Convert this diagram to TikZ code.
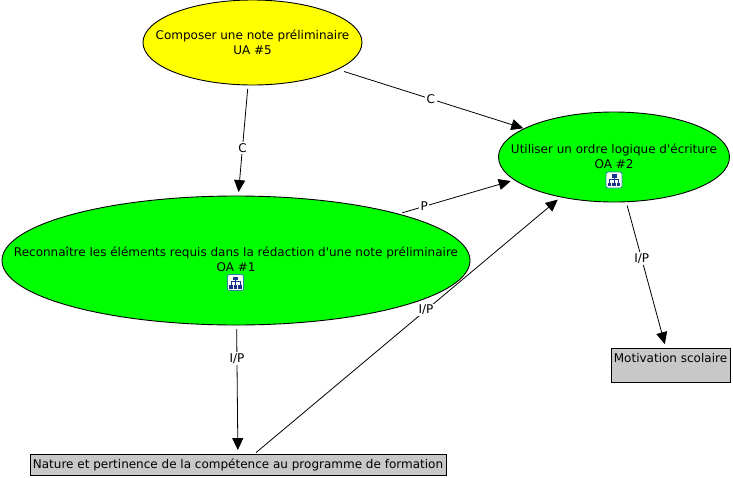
\documentclass[tikz,border=0pt]{standalone}
\usepackage{fontspec}
\setmainfont{DejaVu Sans}
\usetikzlibrary{shapes.geometric,arrows.meta}
\definecolor{oagreen}{RGB}{0,255,0}
\definecolor{uayellow}{RGB}{255,255,0}
\definecolor{resgrey}{RGB}{200,200,200}
\definecolor{iconblue}{RGB}{25,50,140}
\definecolor{iconedge}{RGB}{40,130,170}
\tikzset{
  every node/.style={font=\fontsize{12}{15}\selectfont},
  every label/.style={align=center},
  concept/.style={draw, ellipse, line width=0.9pt, inner sep=0pt},
  resource/.style={draw, rectangle, line width=0.9pt, fill=resgrey, inner sep=0pt, align=left},
  linklabel/.style={fill=white, inner sep=1.5pt},
  treeicon/.pic={
    \draw[iconedge, fill=white, line width=0.8pt, rounded corners=2pt] (-8,-8) rectangle (8,8);
    \draw[iconblue, line width=0.8pt] (0,-3) -- (0,3) (-4.5,3) -- (-4.5,-1) -- (4.5,-1) -- (4.5,3);
    \fill[iconblue] (-2.5,-6) rectangle (2.5,-2.5);
    \foreach \iconx in {-4.5,0,4.5}
      \fill[iconblue] (\iconx-1.7,2.5) rectangle (\iconx+1.7,6);
  },
}

\begin{document}
\begin{tikzpicture}[
  x=1pt,y=-1pt,
]
\useasboundingbox (0,0) rectangle (733,477);

\node[concept, fill=uayellow, minimum width=219pt, minimum height=85pt,
  label={center:Composer une note préliminaire\\UA \#5}] (ua5) at (252.5,42.5) {};
\node[concept, fill=oagreen, minimum width=468pt, minimum height=129pt,
  label={[yshift=1pt]center:Reconnaître les éléments requis dans la rédaction d\textquotesingle une note préliminaire\\OA \#1}] (oa1) at (236,260.5) {};
\node[concept, fill=oagreen, minimum width=231pt, minimum height=90pt,
  label={[yshift=1pt]center:Utiliser un ordre logique d\textquotesingle écriture\\OA \#2}] (oa2) at (614,157) {};
\node[resource, minimum width=119pt, minimum height=34pt] (motivation) at (670.5,365)
  {Motivation scolaire\\\ };
\node[resource, minimum width=416pt, minimum height=21pt] (nature) at (238,464.5)
  {Nature et pertinence de la compétence au programme de formation};

\pic at (235.5,282.5) {treeicon};
\pic at (614,180) {treeicon};

\path[
  ->,>={Triangle[length=12pt,width=11pt]},
  shorten >=3.5pt,shorten <=3.5pt,
  line width=0.8pt,
]
(ua5.-96) edge node[linklabel, pos=0.57] {C} (oa1.88.5)
(ua5) edge[shorten <=6.5pt, shorten >=0.5pt] node[linklabel, pos=0.5] {C} (oa2)
(oa1.16.2) edge node[linklabel, pos=0.22] {P} (oa2.193.3)
(oa1) edge node[linklabel, pos=0.26] {I/P} (nature)
(nature.33.6) edge[shorten <=1.5pt] node[linklabel, pos=0.56] {I/P} (oa2.217.9)
(oa2) edge node[linklabel, pos=0.39] {I/P} (motivation);
\end{tikzpicture}
\end{document}
